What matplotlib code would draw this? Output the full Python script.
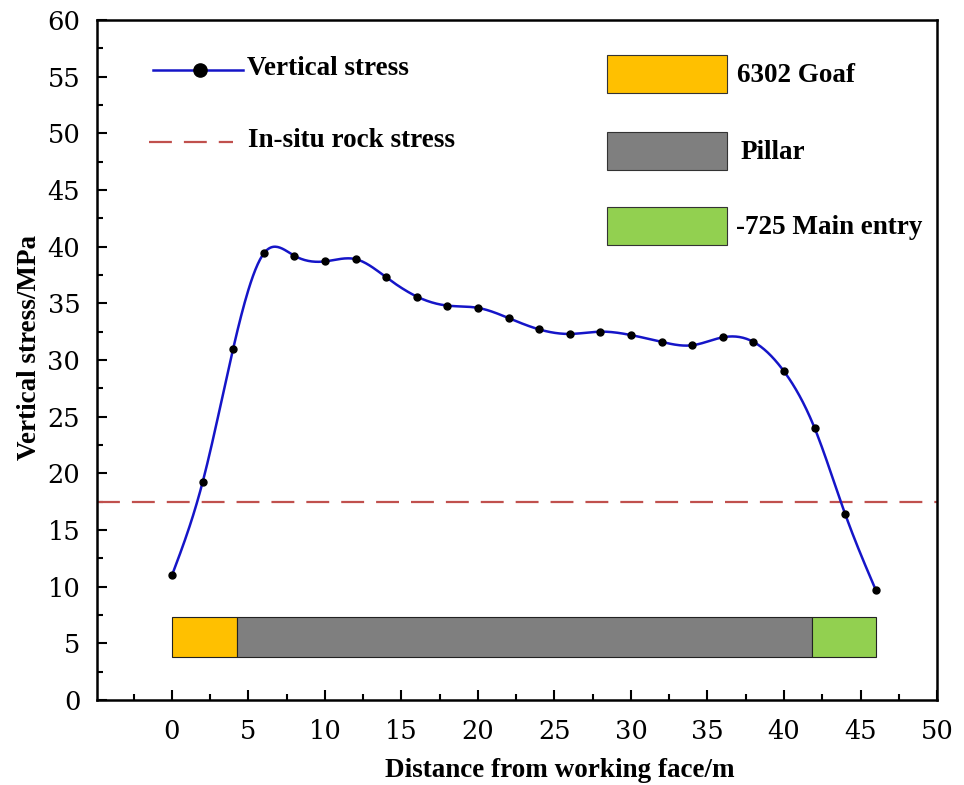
import numpy as np
import matplotlib
matplotlib.use('Agg')
import matplotlib.pyplot as plt
from matplotlib.patches import Rectangle
from matplotlib.ticker import MultipleLocator

distance = [0, 2, 4, 6, 8, 10, 12, 14, 16, 18, 20, 22, 24, 26, 28, 30, 32, 34, 36, 38, 40, 42, 44, 46]
stress = [11.0, 19.2, 31.0, 39.4, 39.2, 38.7, 38.9, 37.3, 35.6, 34.8, 34.6, 33.7, 32.7, 32.3, 32.5, 32.2, 31.6, 31.3, 32.0, 31.6, 29.0, 24.0, 16.4, 9.7]
insitu_stress = 17.5

zone_names = ['6302 Goaf', 'Pillar', '-725 Main entry']
zone_start = [0, 4.25, 41.8]
zone_end = [4.25, 41.8, 46]
zone_colors = ['#FFC000', '#7F7F7F', '#92D050']

label_font = {'family': 'Liberation Serif', 'weight': 'bold'}
tick_font = 'DejaVu Serif'


def natural_spline(x, y, n=600):
    # plain natural cubic spline, no scipy here
    x = np.asarray(x, float)
    y = np.asarray(y, float)
    h = np.diff(x)
    m = len(x)
    A = np.zeros((m, m))
    b = np.zeros(m)
    A[0, 0] = A[-1, -1] = 1
    for i in range(1, m - 1):
        A[i, i - 1] = h[i - 1]
        A[i, i] = 2 * (h[i - 1] + h[i])
        A[i, i + 1] = h[i]
        b[i] = 6 * ((y[i + 1] - y[i]) / h[i] - (y[i] - y[i - 1]) / h[i - 1])
    M = np.linalg.solve(A, b)
    xs = np.linspace(x[0], x[-1], n)
    idx = np.clip(np.searchsorted(x, xs) - 1, 0, m - 2)
    x0, x1 = x[idx], x[idx + 1]
    hh = x1 - x0
    t0, t1 = x1 - xs, xs - x0
    ys = (M[idx] * t0 ** 3 + M[idx + 1] * t1 ** 3) / (6 * hh) \
        + (y[idx] / hh - M[idx] * hh / 6) * t0 + (y[idx + 1] / hh - M[idx + 1] * hh / 6) * t1
    return xs, ys


fig = plt.figure(figsize=(9.64, 7.85), dpi=100)
ax = fig.add_axes([0.1006, 0.1083, 0.8714, 0.8662])

xs, ys = natural_spline(distance, stress)
ax.plot(xs, ys, color='#1515C8', lw=1.8, zorder=3)
ax.plot(distance, stress, 'o', color='black', ms=5, zorder=4)
ax.axhline(insitu_stress, color='#C0504D', lw=1.6, dashes=(10.3, 5.4), zorder=2)

for start, end, color in zip(zone_start, zone_end, zone_colors):
    ax.add_patch(Rectangle((start, 3.8), end - start, 3.55, facecolor=color,
                           edgecolor='#222222', lw=0.8, zorder=2))

ax.set_xlim(-4.9, 50)
ax.set_ylim(0, 60)
ax.xaxis.set_major_locator(MultipleLocator(5))
ax.xaxis.set_minor_locator(MultipleLocator(2.5))
ax.yaxis.set_major_locator(MultipleLocator(5))
ax.yaxis.set_minor_locator(MultipleLocator(2.5))
ax.tick_params(which='both', direction='in', width=1.5)
ax.tick_params(which='major', length=7, labelsize=18.5)
ax.tick_params(which='minor', length=4)
ax.tick_params(axis='x', pad=14)
ax.tick_params(axis='y', pad=12)
for lab in ax.get_xticklabels() + ax.get_yticklabels():
    lab.set_family(tick_font)
for sp in ax.spines.values():
    sp.set_linewidth(1.8)

ax.set_xlabel('Distance from working face/m', fontsize=19.5, **label_font)
ax.set_ylabel('Vertical stress/MPa', fontsize=19.5, **label_font)
ax.xaxis.set_label_coords(0.551, -0.085)
ax.yaxis.set_label_coords(-0.066, 0.519)

# left legend, drawn by hand
ax.plot([0.0667, 0.1738], [0.9265, 0.9265], transform=ax.transAxes, color='#1515C8', lw=1.8)
ax.plot([0.1226], [0.9265], 'o', transform=ax.transAxes, color='black', ms=9.5)
ax.text(0.1786, 0.9280, 'Vertical stress', transform=ax.transAxes, va='center', fontsize=19.5, **label_font)
ax.plot([0.0619, 0.1619], [0.8206, 0.8206], transform=ax.transAxes, color='#C0504D', lw=1.6, dashes=(10.3, 5.4))
ax.text(0.1798, 0.8221, 'In-situ rock stress', transform=ax.transAxes, va='center', fontsize=19.5, **label_font)

# right legend for the zones
box_y = [0.8926, 0.7794, 0.6691]
text_x = [0.7619, 0.7666, 0.7607]
for name, color, y, tx in zip(zone_names, zone_colors, box_y, text_x):
    ax.add_patch(Rectangle((0.6071, y), 0.1429, 0.0559, transform=ax.transAxes,
                           facecolor=color, edgecolor='#333333', lw=0.8))
    ax.text(tx, y + 0.026, name, transform=ax.transAxes, va='center', fontsize=19.5, **label_font)

fig.savefig('out.png', dpi=100)
